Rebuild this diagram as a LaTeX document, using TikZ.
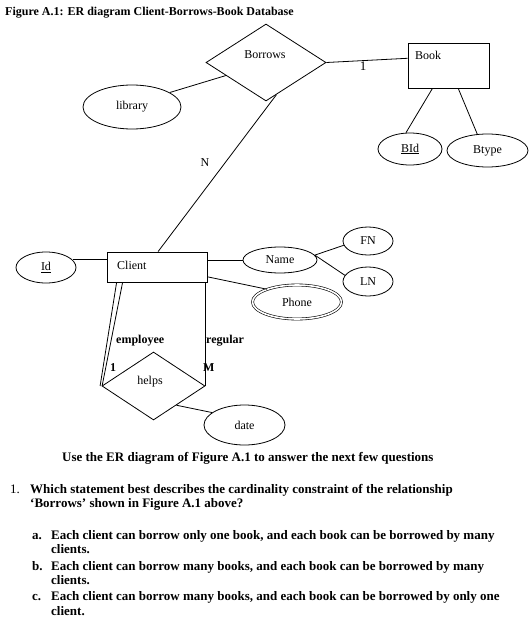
\documentclass[tikz,border=0pt]{standalone}
\usepackage{fontspec}
\setmainfont{Liberation Serif}
\usetikzlibrary{shapes.geometric}
\begin{document}
\begin{tikzpicture}[x=1pt,y=-1pt,
  every node/.style={font=\fontsize{12}{14}\selectfont},
  conn/.style={draw,line width=0.8pt},
  ent/.style={draw,line width=0.8pt,rectangle,inner sep=0pt},
  attr/.style={draw,line width=0.8pt,ellipse,inner sep=0pt},
  rel/.style={draw,line width=0.8pt,diamond,inner sep=0pt},
  txt/.style={inner sep=0pt},
  btxt/.style={inner sep=0pt,anchor=base west,font=\fontsize{13}{15}\selectfont\bfseries},
  dtxt/.style={inner sep=0pt,anchor=base west,font=\fontsize{12}{14}\selectfont\bfseries}]
\useasboundingbox (0,0) rectangle (532,637);
\fill[white] (0,0) rectangle (532,637);
% title
\node[btxt,font=\fontsize{12}{14}\selectfont\bfseries] (title) at (5,15) {Figure A.1: ER diagram Client-Borrows-Book Database};
% entities
\node[ent,minimum width=81pt,minimum height=45pt] (book) at (448.5,65.5) {};
\node[txt,anchor=base west] (booklbl) at (415,59) {Book};
\node[ent,minimum width=100pt,minimum height=30pt] (client) at (157,267) {};
\node[txt,anchor=base west] (clientlbl) at (117,269) {Client};
% relationships
\node[rel,minimum width=120pt,minimum height=77pt] (borrows) at (266,62.5) {};
\node[txt] (borrowslbl) at (265,55) {Borrows};
\node[rel,minimum width=103pt,minimum height=68pt] (helps) at (153.5,386) {};
\node[txt] (helpslbl) at (150,382) {helps};
% attributes
\node[attr,minimum width=98pt,minimum height=44pt] (library) at (132,107) {library};
\node[attr,minimum width=64pt,minimum height=32pt] (bid) at (410,149) {\underline{BId}};
\node[attr,minimum width=81pt,minimum height=33pt] (btype) at (487.5,150.5) {Btype};
\node[attr,minimum width=60pt,minimum height=31pt] (id) at (46,267.5) {\underline{Id}};
\node[attr,minimum width=74pt,minimum height=26pt] (name) at (280,260) {Name};
\node[attr,minimum width=50pt,minimum height=28pt] (fn) at (368,241) {FN};
\node[attr,minimum width=50pt,minimum height=29pt] (ln) at (368,281.5) {LN};
\node[ellipse,draw,double,double distance=1.6pt,line width=0.6pt,inner sep=0pt,minimum width=89pt,minimum height=34pt] (phone) at (297,302) {Phone};
\node[attr,minimum width=81pt,minimum height=40pt] (date) at (244.5,425) {date};
% connectors
\draw[conn] (borrows.east) -- (book.170);
\draw[conn] (library.21) -- (borrows.198);
\draw[conn] (borrows.-72) -- (client.86);
\draw[conn] (book.-125) -- (bid.104);
\draw[conn] (book.-67) -- (btype.122);
\draw[conn] (id.16) -- (id.16 -| client.west);
\draw[conn] (name.west) -- (name.west -| client.east);
\draw[conn] (client.-11) -- (phone.157);
\draw[conn] (name.8) -- (fn.190);
\draw[conn] (name.8) -- (ln.165);
\draw[conn] ([xshift=10pt]client.south west) -- ([xshift=-1.5pt]helps.west);
\draw[conn] ([xshift=16pt]client.south west) -- ([xshift=0.5pt]helps.west);
\draw[conn] (helps.east |- client.south) -- (helps.east);
\draw[conn] (helps.-40) -- (date.159);
% cardinality labels
\node[txt,font=\fontsize{13}{15}\selectfont] (card1) at (363,66) {1};
\node[txt] (cardn) at (205,163) {N};
\node[dtxt] (emp) at (116,343) {employee};
\node[dtxt] (reg) at (206,343) {regular};
\node[dtxt] (cardh1) at (110,371) {1};
\node[dtxt] (cardm) at (203,371) {M};
% question text
\node[btxt] (use) at (62,461) {Use the ER diagram of Figure A.1 to answer the next few questions};
\node[btxt,font=\fontsize{13}{15}\selectfont] (qn) at (10,493) {1.};
\node[btxt] (q1) at (30,493) {Which statement best describes the cardinality constraint of the relationship};
\node[btxt] (q2) at (30,507) {‘Borrows’ shown in Figure A.1 above?};
\node[btxt] (la) at (32,539) {a.};
\node[btxt] (a1) at (51,539) {Each client can borrow only one book, and each book can be borrowed by many};
\node[btxt] (a2) at (51,553) {clients.};
\node[btxt] (lb) at (32,570) {b.};
\node[btxt] (b1) at (51,570) {Each client can borrow many books, and each book can be borrowed by many};
\node[btxt] (b2) at (51,584) {clients.};
\node[btxt] (lc) at (32,600) {c.};
\node[btxt] (c1) at (51,600) {Each client can borrow many books, and each book can be borrowed by only one};
\node[btxt] (c2) at (51,615) {client.};
\end{tikzpicture}
\end{document}
